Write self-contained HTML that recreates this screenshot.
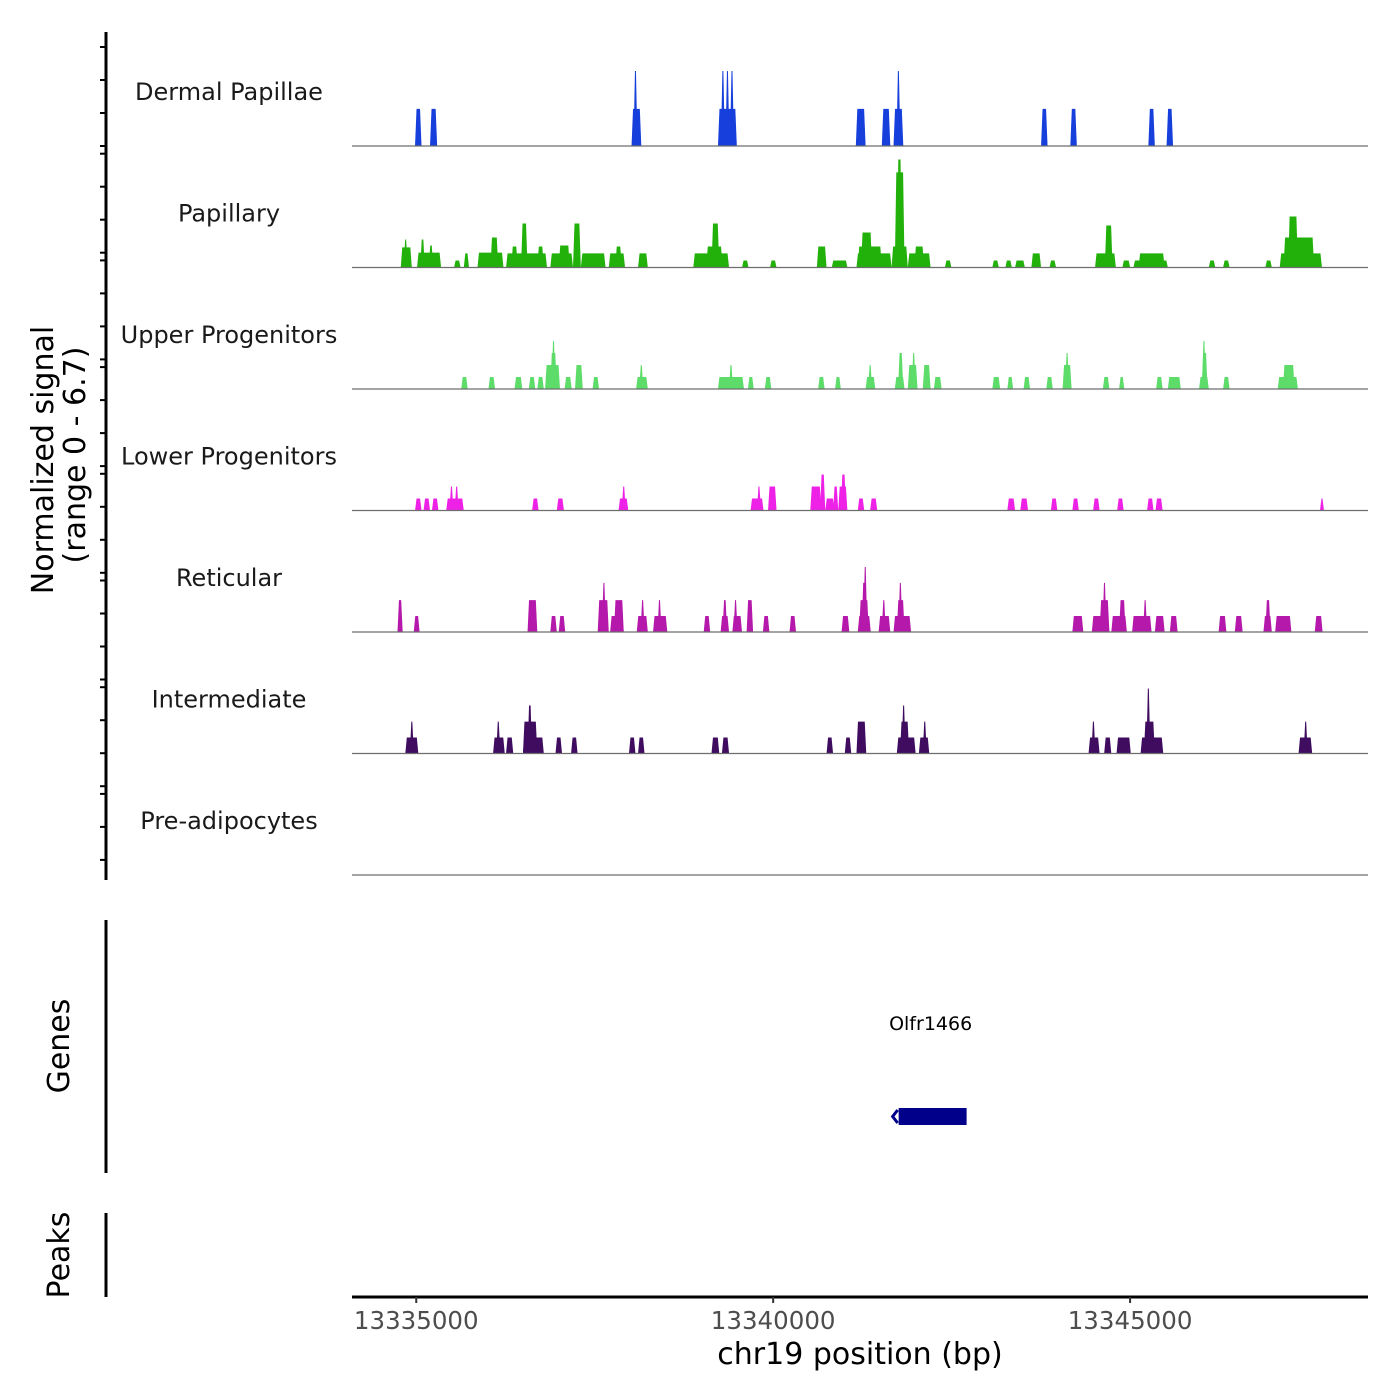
<!DOCTYPE html>
<html><head><meta charset="utf-8">
<style>
html,body{margin:0;padding:0;background:#fff;}
svg{display:block;font-family:"DejaVu Sans","Liberation Sans",sans-serif;}
</style></head>
<body>
<svg id="chart" width="1400" height="1400" viewBox="0 0 1400 1400" xmlns="http://www.w3.org/2000/svg">
<g id="ticks">
<line x1="106" y1="32" x2="106" y2="880" stroke="#000" stroke-width="3"/>
</g>
<text transform="translate(53,460) rotate(-90)" text-anchor="middle" font-size="30">Normalized signal</text>
<text transform="translate(85,455) rotate(-90)" text-anchor="middle" font-size="30">(range 0 - 6.7)</text>
<g id="tracks"></g>
<line x1="106" y1="920" x2="106" y2="1173" stroke="#000" stroke-width="3"/>
<text transform="translate(69,1046) rotate(-90)" text-anchor="middle" font-size="30">Genes</text>
<line x1="106" y1="1213" x2="106" y2="1297" stroke="#000" stroke-width="3"/>
<text transform="translate(69,1255) rotate(-90)" text-anchor="middle" font-size="30">Peaks</text>
<g id="genes"></g>
<g id="xaxis">
<line x1="352" y1="1297" x2="1368" y2="1297" stroke="#000" stroke-width="3"/>
</g>
<text x="860" y="1364" text-anchor="middle" font-size="30">chr19 position (bp)</text>
</svg>
<script>
const regionStart = 13334100;
const regionEnd = 13348333;
const yMax = 6.7;
const xTicks = [13335000, 13340000, 13345000];
const trackNames = ["Dermal Papillae","Papillary","Upper Progenitors","Lower Progenitors","Reticular","Intermediate","Pre-adipocytes"];
const trackColors = ["#163fdc","#22b00a","#5ddc6a","#ee22e6","#b519ab","#3f0c60","#888888"];
const dermalPeaks = [[13334983,13335074,2.16],[13335193,13335293,2.16],[13338016,13338153,2.16],[13338053,13338089,4.37],[13339227,13339491,2.16],[13339273,13339318,4.37],[13339337,13339382,4.37],[13339400,13339446,4.37],[13341158,13341295,2.16],[13341522,13341641,2.16],[13341686,13341823,2.16],[13341732,13341777,4.37],[13343753,13343844,2.16],[13344163,13344254,2.16],[13345256,13345347,2.16],[13345511,13345602,2.16]];
const papillaryPeaks = [[13334783,13334938,1.17],[13334829,13334874,1.63],[13335011,13335348,0.87],[13335056,13335120,1.63],[13335175,13335238,1.28],[13335530,13335621,0.41],[13335666,13335739,0.82],[13335858,13336222,0.87],[13336040,13336149,1.75],[13336258,13336832,0.82],[13336331,13336422,1.22],[13336468,13336559,2.56],[13336696,13336787,1.22],[13336878,13337196,0.82],[13336996,13337151,1.28],[13337196,13337306,2.56],[13337306,13337652,0.82],[13337697,13337925,0.82],[13337788,13337879,1.22],[13338107,13338244,0.82],[13338881,13339382,0.82],[13339063,13339291,1.22],[13339136,13339245,2.56],[13339564,13339655,0.41],[13339956,13340047,0.41],[13340612,13340748,1.22],[13340821,13341040,0.41],[13341167,13341659,0.82],[13341185,13341522,1.22],[13341231,13341386,2.04],[13341659,13341886,1.22],[13341704,13341841,5.54],[13341732,13341805,6.29],[13341886,13342205,0.82],[13341978,13342114,1.22],[13342406,13342497,0.41],[13343070,13343161,0.41],[13343253,13343344,0.41],[13343389,13343526,0.41],[13343617,13343753,0.82],[13343872,13343963,0.41],[13344509,13344801,0.82],[13344646,13344755,2.45],[13344892,13345001,0.41],[13345047,13345529,0.41],[13345119,13345484,0.82],[13346103,13346194,0.41],[13346303,13346394,0.41],[13346895,13346986,0.41],[13347096,13347688,0.82],[13347150,13347578,1.75],[13347214,13347351,2.97]];
const upperPeaks = [[13335630,13335721,0.7],[13336012,13336104,0.7],[13336377,13336486,0.7],[13336577,13336668,0.7],[13336696,13336787,0.7],[13336805,13337014,1.4],[13336878,13336969,2.1],[13336905,13336941,2.8],[13337078,13337178,0.7],[13337224,13337333,1.4],[13337470,13337561,0.7],[13338080,13338244,0.7],[13338125,13338180,1.4],[13339227,13339591,0.7],[13339382,13339437,1.4],[13339646,13339728,0.7],[13339883,13339974,0.7],[13340630,13340721,0.7],[13340867,13340948,0.7],[13341295,13341431,0.7],[13341331,13341386,1.4],[13341704,13341841,0.7],[13341750,13341823,2.1],[13341886,13342023,1.4],[13341950,13341987,2.1],[13342096,13342205,1.4],[13342251,13342360,0.7],[13343070,13343180,0.7],[13343280,13343362,0.7],[13343508,13343599,0.7],[13343826,13343917,0.7],[13344054,13344181,1.4],[13344090,13344145,2.1],[13344619,13344710,0.7],[13344846,13344919,0.7],[13345365,13345456,0.7],[13345529,13345711,0.7],[13345966,13346103,0.7],[13346003,13346085,2.1],[13346012,13346057,2.8],[13346303,13346394,0.7],[13347068,13347351,0.7],[13347141,13347305,1.4]];
const lowerPeaks = [[13334983,13335074,0.7],[13335102,13335193,0.7],[13335220,13335311,0.7],[13335420,13335666,0.7],[13335475,13335512,1.4],[13335548,13335584,1.4],[13336623,13336714,0.7],[13336969,13337069,0.7],[13337834,13337970,0.7],[13337879,13337934,1.4],[13339683,13339865,0.7],[13339774,13339828,1.4],[13339928,13340047,1.4],[13340520,13340675,1.4],[13340657,13340730,2.1],[13340730,13340857,0.7],[13340839,13340912,1.4],[13340912,13341040,1.4],[13340948,13341021,2.1],[13341185,13341276,0.7],[13341358,13341458,0.7],[13343280,13343389,0.7],[13343462,13343571,0.7],[13343890,13343981,0.7],[13344191,13344282,0.7],[13344482,13344573,0.7],[13344819,13344910,0.7],[13345238,13345329,0.7],[13345356,13345456,0.7],[13347679,13347697,0.7]];
const reticularPeaks = [[13334737,13334810,1.86],[13334965,13335047,0.93],[13336559,13336696,1.86],[13336878,13336969,0.93],[13336996,13337087,0.93],[13337542,13337697,1.86],[13337606,13337652,2.86],[13337716,13337907,0.93],[13337770,13337907,1.86],[13338089,13338244,0.93],[13338144,13338198,1.86],[13338317,13338517,0.93],[13338389,13338426,1.86],[13339027,13339118,0.93],[13339264,13339382,0.93],[13339291,13339355,1.86],[13339428,13339564,0.93],[13339446,13339500,1.86],[13339628,13339719,1.86],[13339856,13339947,0.93],[13340229,13340320,0.93],[13340958,13341067,0.93],[13341185,13341367,0.93],[13341204,13341340,1.86],[13341240,13341313,2.86],[13341276,13341304,3.79],[13341477,13341641,0.93],[13341522,13341577,1.86],[13341686,13341932,0.93],[13341732,13341841,1.86],[13341759,13341805,2.86],[13344191,13344345,0.93],[13344464,13344710,0.93],[13344573,13344710,1.86],[13344619,13344664,2.86],[13344737,13344955,0.93],[13344846,13344937,1.86],[13345028,13345301,0.93],[13345193,13345229,1.86],[13345347,13345484,0.93],[13345557,13345666,0.93],[13346240,13346349,0.93],[13346467,13346577,0.93],[13346868,13346986,0.93],[13346895,13346968,1.86],[13347032,13347260,0.93],[13347587,13347697,0.93]];
const intermediatePeaks = [[13334847,13335029,0.93],[13334920,13334956,1.86],[13336076,13336240,0.93],[13336122,13336176,1.86],[13336258,13336359,0.93],[13336495,13336787,0.93],[13336495,13336696,1.86],[13336559,13336623,2.8],[13336951,13337042,0.93],[13337169,13337260,0.93],[13337980,13338071,0.93],[13338107,13338198,0.93],[13339136,13339245,0.93],[13339282,13339382,0.93],[13340748,13340839,0.93],[13341003,13341094,0.93],[13341167,13341304,1.86],[13341732,13341996,0.93],[13341777,13341905,1.86],[13341805,13341850,2.8],[13342041,13342187,0.93],[13342096,13342151,1.86],[13344418,13344573,0.93],[13344464,13344509,1.86],[13344637,13344737,0.93],[13344810,13345010,0.93],[13345147,13345465,0.93],[13345193,13345347,1.86],[13345229,13345283,2.8],[13345247,13345265,3.79],[13347360,13347551,0.93],[13347442,13347478,1.86]];
const preadipocytePeaks = [];
const genes = ["Olfr1466"];
const geneStarts = [13341758];
const geneEnds = [13342710];

const NS = "http://www.w3.org/2000/svg";
const plotLeft = 352, plotRight = 1368;
const trackStep = 121.5, trackPx = 115;
function xScale(bp){ return plotLeft + (bp - regionStart) / (regionEnd - regionStart) * (plotRight - plotLeft); }
function yScale(v, base){ return base - v / yMax * trackPx; }
function mk(tag, attrs){ const e = document.createElementNS(NS, tag); for (const k in attrs) e.setAttribute(k, attrs[k]); return e; }

const tg = document.getElementById("ticks");
for (let g = 0; g < 8; g++) {
  for (let j = 0; j < 4; j++) {
    const y = 47 + g * 106.7 + j * 33;
    if (y > 880) continue;
    const t = mk("line", {x1: 100, x2: 106, y1: y, y2: y, stroke: "#000", "stroke-width": 2});
    
    
    tg.appendChild(t);
  }
}

const allPeaks = [dermalPeaks, papillaryPeaks, upperPeaks, lowerPeaks, reticularPeaks, intermediatePeaks, preadipocytePeaks];
const tracksG = document.getElementById("tracks");
trackNames.forEach((name, i) => {
  const base = 146 + i * trackStep;
  const g = mk("g", {});
  
  
  const lbl = mk("text", {x: 229, y: base - 46, "text-anchor": "middle", "font-size": 24, fill: "#1a1a1a"});
  lbl.textContent = name;
  
  
  g.appendChild(lbl);
  allPeaks[i].forEach(p => {
    let x0 = xScale(p[0]), x1 = xScale(p[1]);
    const w = x1 - x0;
    if (w < 4) { const c = (x0 + x1) / 2; x0 = c - 2; x1 = c + 2; }
    const s = Math.min(1.5, (x1 - x0) / 2.2);
    const yt = yScale(p[2], base);
    const poly = mk("polygon", {points: `${x0},${base} ${x0 + s},${yt} ${x1 - s},${yt} ${x1},${base}`, fill: trackColors[i]});
    
    
    g.appendChild(poly);
  });
  const bl = mk("line", {x1: plotLeft, x2: plotRight, y1: base, y2: base, stroke: "#6e6e6e", "stroke-width": 1.2});
  
  
  g.appendChild(bl);
  tracksG.appendChild(g);
});

const gg = document.getElementById("genes");
genes.forEach((gname, i) => {
  const x0 = xScale(geneStarts[i]), x1 = xScale(geneEnds[i]);
  const r = mk("rect", {x: x0, y: 1108, width: x1 - x0, height: 17, fill: "#00008b"});
  
  
  gg.appendChild(r);
  const a = mk("path", {d: `M${x0 - 1},1110 L${x0 - 6},1116.5 L${x0 - 1},1123`, stroke: "#00008b", "stroke-width": 3, fill: "none"});
  
  
  gg.appendChild(a);
  const t = mk("text", {x: (x0 + x1) / 2 - 2, y: 1030, "text-anchor": "middle", "font-size": 19});
  t.textContent = gname;
  
  
  gg.appendChild(t);
});

const xa = document.getElementById("xaxis");
xTicks.forEach(v => {
  const x = xScale(v);
  const tk = mk("line", {x1: x, x2: x, y1: 1297, y2: 1303, stroke: "#333", "stroke-width": 2});
  
  
  xa.appendChild(tk);
  const tl = mk("text", {x: x, y: 1329, "text-anchor": "middle", "font-size": 24.5, fill: "#4d4d4d"});
  tl.textContent = String(v);
  
  
  xa.appendChild(tl);
});
</script>
</body></html>
